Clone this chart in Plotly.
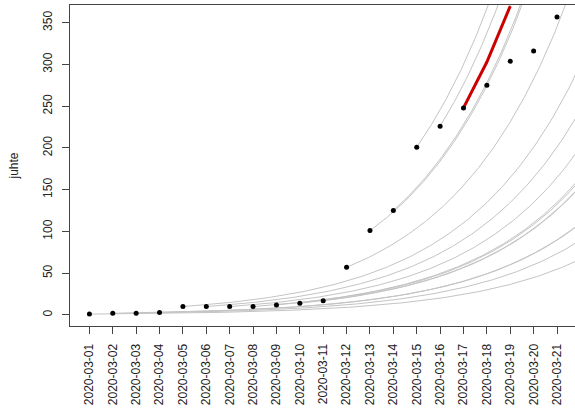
import numpy as np
import plotly.graph_objects as go

dates = ["2020-03-01", "2020-03-02", "2020-03-03", "2020-03-04", "2020-03-05",
         "2020-03-06", "2020-03-07", "2020-03-08", "2020-03-09", "2020-03-10",
         "2020-03-11", "2020-03-12", "2020-03-13", "2020-03-14", "2020-03-15",
         "2020-03-16", "2020-03-17", "2020-03-18", "2020-03-19", "2020-03-20",
         "2020-03-21"]
cases = [1, 2, 2, 3, 10, 10, 10, 10, 12, 14, 17, 57, 101, 125, 201, 226, 248,
         275, 304, 316, 357]
growth_rate = 0.2          # daily exponential growth used for projections
last_projection_day = 16   # projections start from each day up to 2020-03-17
red_days = [16, 17, 18]    # highlighted projection from 2020-03-17
y_ticks = [0, 50, 100, 150, 200, 250, 300, 350]

day_idx = np.arange(len(dates))
fig = go.Figure()

# gray projection curves
for i in range(last_projection_day + 1):
    t = np.linspace(i, 21.5, 200)
    y = cases[i] * np.exp(growth_rate * (t - i))
    fig.add_trace(go.Scatter(x=t, y=y, mode="lines",
                             line=dict(color="#c4c4c4", width=1),
                             hoverinfo="skip", showlegend=False))

# red projection (daily steps)
rd = np.array(red_days)
red_y = cases[red_days[0]] * np.exp(growth_rate * (rd - red_days[0]))
fig.add_trace(go.Scatter(x=rd, y=red_y, mode="lines",
                         line=dict(color="#cc0000", width=3),
                         showlegend=False))

# observed points
fig.add_trace(go.Scatter(x=day_idx, y=cases, mode="markers",
                         marker=dict(color="black", size=5),
                         showlegend=False))

font = dict(family="Liberation Sans, Arial, sans-serif", size=12, color="#222")
fig.update_layout(
    width=575, height=412,
    margin=dict(l=70, r=0, t=5, b=86),
    paper_bgcolor="white", plot_bgcolor="white",
    font=font,
    xaxis=dict(range=[-0.83, 20.77], tickvals=list(day_idx), ticktext=dates,
               tickangle=-90, ticks="outside", ticklen=7, tickcolor="#444",
               showgrid=False, zeroline=False, showline=True, linecolor="#444",
               linewidth=1, mirror=True, tickfont=font, automargin=False,
               ticklabelstandoff=5),
    yaxis=dict(range=[-13.24, 371.24], tickvals=y_ticks, tickangle=-90,
               ticks="outside", ticklen=7, tickcolor="#444",
               showgrid=False, zeroline=False, showline=True, linecolor="#444",
               linewidth=1, tickfont=font, automargin=False,
               ticklabelstandoff=5,
               title=dict(text="juhte", font=font, standoff=20)),
)
fig.write_html("out.html",
               config={"displayModeBar": False},
               post_script="document.body.style.margin='0px';"
                           "document.body.style.overflow='hidden';")
